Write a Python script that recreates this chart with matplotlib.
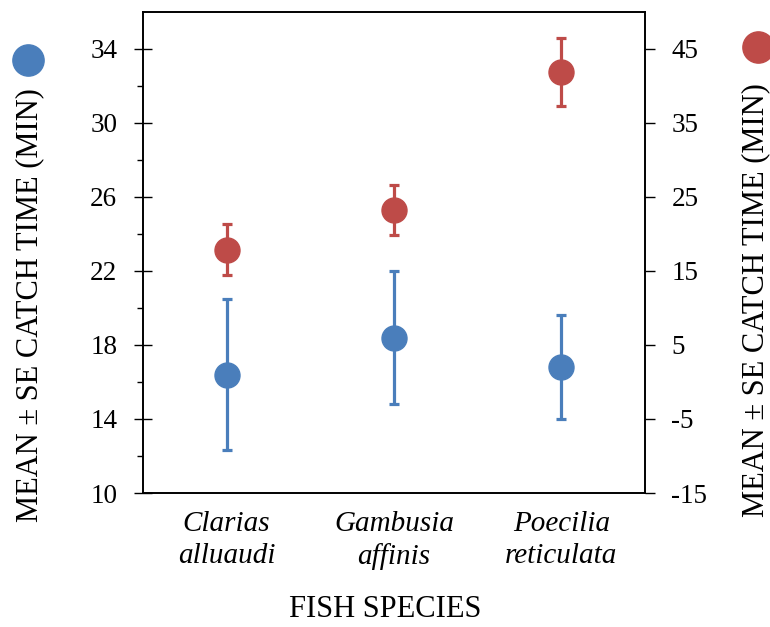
import matplotlib
matplotlib.use("Agg")
from matplotlib import pyplot as plt

# catch times (left axis = blue series, right axis = red series)
species = ["Clarias\nalluaudi", "Gambusia\naffinis", "Poecilia\nreticulata"]
blue_mean = [16.4, 18.4, 16.8]
blue_se = [4.1, 3.6, 2.8]
red_mean = [17.9, 23.2, 41.9]
red_se = [3.4, 3.4, 4.6]

left_ticks = [10, 14, 18, 22, 26, 30, 34]
left_minor = [12, 16, 20, 24, 28, 32]
right_ticks = [-15, -5, 5, 15, 25, 35, 45]

BLUE = "#4A7EBB"
RED = "#BE4B48"
LABEL = "MEAN \u00b1 SE CATCH TIME (MIN)"

plt.rcParams["font.family"] = ["Liberation Serif", "DejaVu Serif"]
plt.rcParams["axes.unicode_minus"] = False


def main():
    fig = plt.figure(figsize=(7.7, 6.27), dpi=100)
    ax = fig.add_axes([0.1857, 0.2137, 0.652, 0.7673])
    ax2 = ax.twinx()

    x = list(range(1, len(species) + 1))
    ax.errorbar(x, blue_mean, yerr=blue_se, fmt="o", color=BLUE, ecolor=BLUE,
                markersize=18, elinewidth=2.3, capsize=3.6, capthick=2.3)
    ax2.errorbar(x, red_mean, yerr=red_se, fmt="o", color=RED, ecolor=RED,
                 markersize=18, elinewidth=2.3, capsize=3.6, capthick=2.3)

    ax.set_xlim(0.5, 3.5)
    ax.set_xticks(x)
    ax.set_xticklabels(species, fontsize=21, style="italic", linespacing=1.3)
    ax.tick_params(axis="x", length=0, pad=13)

    ax.set_ylim(10, 36)
    ax.set_yticks(left_ticks)
    ax.set_yticks(left_minor, minor=True)
    ax.tick_params(axis="y", which="major", direction="inout", length=13,
                   width=1, labelsize=19.5, pad=12)
    ax.tick_params(axis="y", which="minor", direction="out", length=4.5, width=1)

    ax2.set_ylim(-15, 50)
    ax2.set_yticks(right_ticks)
    ax2.tick_params(axis="y", direction="out", length=7, width=1,
                    labelsize=19.5, pad=12)

    for a in (ax, ax2):
        for s in a.spines.values():
            s.set_linewidth(1.2)

    fig.text(0.5, 0.016, "FISH SPECIES", ha="center", va="baseline", fontsize=22)
    fig.text(0.039, 0.514, LABEL, rotation=90, ha="center", va="center", fontsize=22)
    fig.text(0.981, 0.522, LABEL, rotation=90, ha="center", va="center", fontsize=22)

    # coloured dots above the axis titles act as the series keys
    ax.plot([0.0364], [0.904], "o", color=BLUE, markersize=22.5,
            transform=fig.transFigure, clip_on=False)
    ax.plot([0.984], [0.925], "o", color=RED, markersize=22.5,
            transform=fig.transFigure, clip_on=False)

    fig.savefig("out.png", dpi=100)


if __name__ == "__main__":
    main()
